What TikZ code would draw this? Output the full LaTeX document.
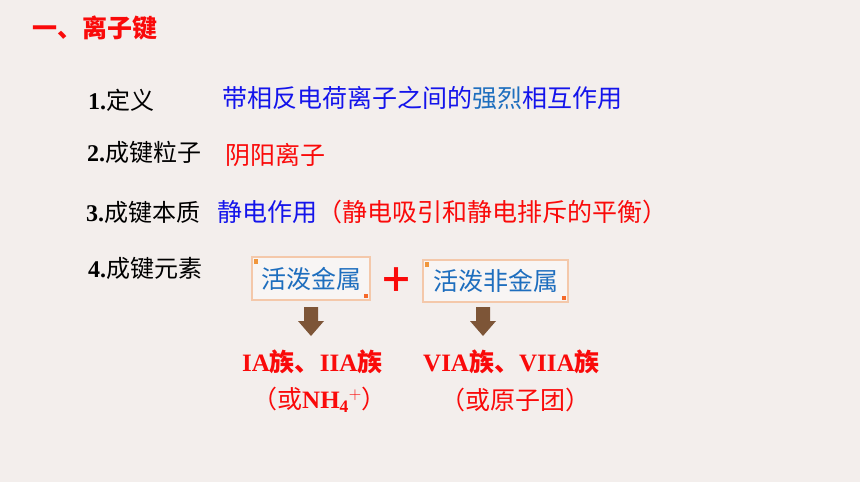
\documentclass[tikz,border=0pt]{standalone}
\usepackage{fontspec}
\setmainfont{Liberation Serif}
\newfontfamily\cjk{Noto Sans CJK SC}
\usetikzlibrary{calc}
\definecolor{bg}{RGB}{243,238,236}
\definecolor{tblue}{RGB}{20,20,235}
\definecolor{sblue}{RGB}{30,110,190}
\definecolor{tred}{RGB}{250,10,10}
\definecolor{boxline}{RGB}{244,200,170}
\definecolor{arrbrown}{RGB}{125,85,55}
\definecolor{deco}{RGB}{240,150,60}
\tikzset{
  txt/.style={anchor=west,inner sep=0pt},
  lbl/.style={txt,font=\fontsize{24}{26}\selectfont,text=black},
  body/.style={txt,font=\fontsize{25}{27}\selectfont\cjk},
  grp/.style={txt,font=\fontsize{25}{27}\selectfont\bfseries,text=tred},
  elbox/.style={draw=boxline,line width=1.6pt,fill=bg!60!white,inner xsep=7pt,inner ysep=5pt,text=sblue,font=\fontsize{25}{27}\selectfont\cjk},
  barrow/.style={fill=arrbrown},
}
\begin{document}
\begin{tikzpicture}[x=1pt,y=-1pt]
\fill[bg] (0,0) rectangle (860,482);
\useasboundingbox (0,0) rectangle (860,482);
% title
\node[txt,text=tred,font=\fontsize{25}{27}\selectfont\cjk\bfseries] (title) at (32,28) {一、离子键};
% labels
\node[lbl] (l1) at (88,100) {\textbf{1.}{\cjk 定义}};
\node[lbl] (l2) at (87,152) {\textbf{2.}{\cjk 成键粒子}};
\node[lbl] (l3) at (86,212) {\textbf{3.}{\cjk 成键本质}};
\node[lbl] (l4) at (88,268) {\textbf{4.}{\cjk 成键元素}};
% bodies
\node[body,text=tblue] (b1) at (222,98) {带相反电荷离子之间的{\color{sblue}强烈}相互作用};
\node[body,text=tred] (b2) at (225,155) {阴阳离子};
\node[body,text=tblue] (b3) at (217,212) {静电作用{\color{tred}（静电吸引和静电排斥的平衡）}};
% boxes
\node[elbox,minimum width=118pt,minimum height=43pt] (m1) at (311,278.5) {活泼金属};
\node[elbox,minimum width=145pt,minimum height=42pt] (m2) at (495.5,281) {活泼非金属};
\foreach \b in {m1,m2}{
  \fill[deco] ($(\b.north west)+(3,3)$) rectangle ++(4,5);
  \fill[deco!70!red] ($(\b.south east)+(-7,-7)$) rectangle ++(4,4);
}
\node[txt,text=tred,font=\fontsize{34}{34}\selectfont\cjk\bfseries] (plus) at (379,280) {＋};
% groups
\node[grp] (g1) at (242,362) {IA{\cjk 族、}IIA{\cjk 族}};
\node[grp] (g1b) at (252,400) {{\mdseries\cjk （}{\cjk\mdseries 或}NH$_{\mathbf 4}{}^{\mathbf +}${\mdseries\cjk ）}};
\node[grp] (g2) at (423,362) {VIA{\cjk 族、}VIIA{\cjk 族}};
\node[grp,font=\fontsize{25}{27}\selectfont\cjk] (g2b) at (440,400) {（或原子团）};
% block arrows
\foreach \b/\x in {m1/311,m2/483}{
  \fill[barrow] (\x-7,307) -- (\x+7,307) -- (\x+7,321) -- (\x+13,321) -- (\x,336) -- (\x-13,321) -- (\x-7,321) -- cycle;
}
\end{tikzpicture}
\end{document}
